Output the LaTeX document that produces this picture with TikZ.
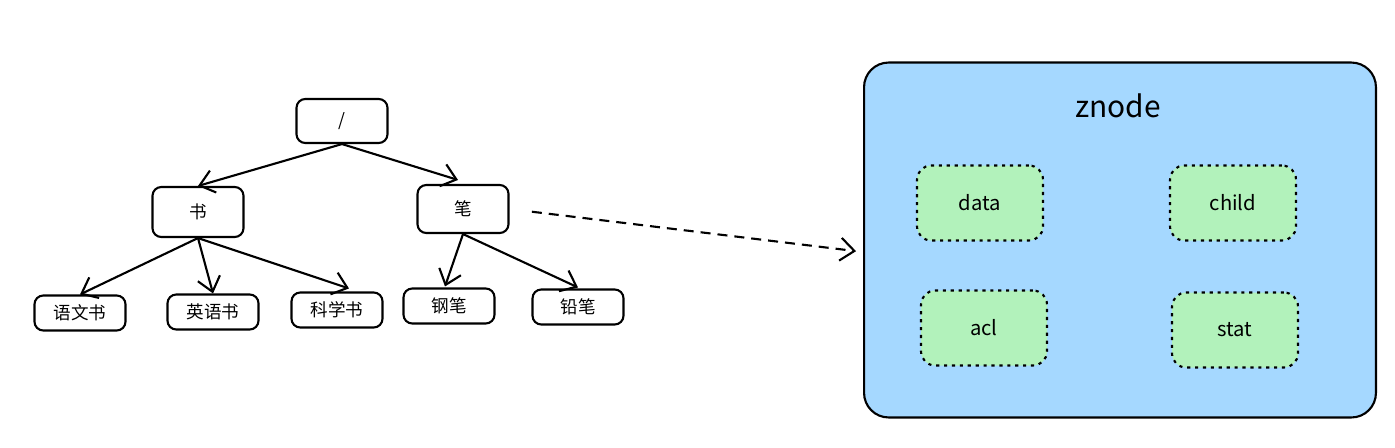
\documentclass[tikz,border=0pt]{standalone}
\usepackage{fontspec}
\usepackage{tikz}
\usetikzlibrary{arrows.meta,calc}
\newfontfamily\cjk{Noto Sans CJK SC}
\definecolor{znodeblue}{HTML}{A5D8FF}
\definecolor{fieldgreen}{HTML}{B2F2BB}

\begin{document}
\begin{tikzpicture}[x=0.02cm, y=-0.02cm, font=\cjk\fontsize{10}{12}\selectfont, line width=1.2pt,
        treebox/.style={draw, rounded corners=5pt, minimum width=1.82cm, inner sep=0pt},
        leafbox/.style={treebox, minimum height=0.7cm, font=\cjk\fontsize{10}{12}\selectfont},
        fieldbox/.style={draw, fill=fieldgreen, rounded corners=8pt, dash pattern=on 1.8pt off 2.7pt,
            minimum width=2.52cm, minimum height=1.5cm, font=\cjk\fontsize{11.5}{13}\selectfont},
        tree/.style={-{Straight Barb[length=8pt,width=13pt]}}]
        \useasboundingbox (0,0) rectangle (1395,447);

        % Path tree
        \node [treebox, minimum height=0.88cm] (root) at (342,121) {/};
        \node [treebox, minimum height=1cm] (shu) at (198,212) {书};
        \node [treebox, minimum height=0.96cm] (bi) at (463,209) {笔};

        \node [leafbox] (yuwen) at (80,313) {语文书};
        \node [leafbox] (yingyu) at (213,312) {英语书};
        \node [leafbox] (kexue) at (337,310) {科学书};
        \node [leafbox] (gangbi) at (449,306) {钢笔};
        \node [leafbox] (qianbi) at (578,307) {铅笔};

        \draw [tree] (root.south) -- (shu.north);
        \draw [tree] (root.south) -- ($(bi.north)+(-5,-4)$);
        \draw [tree] (shu.south) -- (yuwen.north);
        \draw [tree] (shu.south) -- (yingyu.north);
        \draw [tree] (shu.south) -- ($(kexue.north)+(12,-3)$);
        \draw [tree] (bi.south) -- ($(gangbi.north)+(-4,-1)$);
        \draw [tree] (bi.south) -- ($(qianbi.north)+(0,-1)$);

        % znode
        \node [draw, fill=znodeblue, rounded corners=14pt, minimum width=10.24cm, minimum height=7.1cm] (zn) at (1120,240) {};
        \node [font=\cjk\fontsize{17}{20}\selectfont] (title) at (1118,106) {znode};
        \node [fieldbox] (data) at (980,203) {data};
        \node [fieldbox] (child) at (1233,203) {child};
        \node [fieldbox] (acl) at (984,328) {acl};
        \node [fieldbox] (stat) at (1235,330) {stat};

        \draw [tree, dash pattern=on 0.2cm off 0.14cm, shorten <=0.45cm, shorten >=0.14cm] (bi.east) -- ($(zn.west)+(0,12)$);
    \end{tikzpicture}
\end{document}
